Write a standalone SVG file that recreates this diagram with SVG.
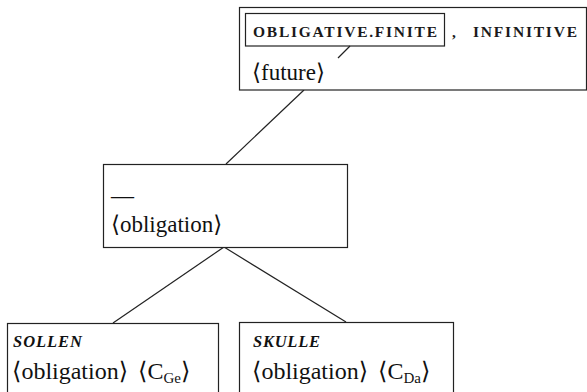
<svg xmlns="http://www.w3.org/2000/svg" width="587" height="392" viewBox="0 0 587 392">
  <style>
    .box { fill: #ffffff; stroke: #222222; stroke-width: 1.2; }
    .inner { fill: none; stroke: #222222; stroke-width: 1.2; }
    .edge { stroke: #222222; stroke-width: 1.2; fill: none; }
    .t { font-family: "Liberation Serif", "DejaVu Serif", serif; font-size: 23px; fill: #111111; }
    .t24 { font-size: 24px; }
    .br { font-family: "DejaVu Sans", "Liberation Serif", serif; }
    .sc { font-family: "Liberation Serif", "DejaVu Serif", serif; font-size: 15.5px; font-weight: bold; fill: #1a1a1a; }
    .lex { font-family: "Liberation Serif", "DejaVu Serif", serif; font-size: 16.5px; font-weight: bold; font-style: italic; fill: #111111; }
    .sub { font-size: 15px; }
  </style>

  <!-- connectors -->
  <g id="connectors">
    <line class="edge" x1="226" y1="164" x2="304" y2="90"/>
    <line class="edge" x1="224" y1="247" x2="113" y2="323"/>
    <line class="edge" x1="224" y1="247" x2="346" y2="322"/>
  </g>

  <!-- root construction -->
  <g id="node-future">
    <rect class="box" x="239.5" y="7.5" width="347" height="82.5"/>
    <rect class="inner" x="245.5" y="13.5" width="199" height="32.5"/>
    <line class="edge" x1="338" y1="58" x2="350" y2="46"/>
    <text class="sc" x="253" y="37" textLength="184" lengthAdjust="spacing">OBLIGATIVE.FINITE</text>
    <text class="sc" x="452" y="37">,</text>
    <text class="sc" x="473" y="37" textLength="104" lengthAdjust="spacing">INFINITIVE</text>
    <text class="t" x="252" y="80"><tspan class="br">⟨</tspan>future<tspan class="br">⟩</tspan></text>
  </g>

  <!-- intermediate construction -->
  <g id="node-obligation">
    <rect class="box" x="103.5" y="164.5" width="244" height="83"/>
    <text class="t" x="111" y="203">—</text>
    <text class="t" x="111" y="232"><tspan class="br">⟨</tspan>obligation<tspan class="br">⟩</tspan></text>
  </g>

  <!-- German verb -->
  <g id="node-sollen">
    <rect class="box" x="7.5" y="323.5" width="211" height="80"/>
    <text class="lex" x="13" y="347" textLength="69" lengthAdjust="spacing">SOLLEN</text>
    <text class="t t24" x="12" y="379"><tspan class="br">⟨</tspan>obligation<tspan class="br">⟩</tspan><tspan class="br" x="138">⟨</tspan>C<tspan class="sub" dy="4">Ge</tspan><tspan class="br" dy="-4">⟩</tspan></text>
  </g>

  <!-- Danish verb -->
  <g id="node-skulle">
    <rect class="box" x="239.5" y="322.5" width="214" height="80"/>
    <text class="lex" x="253" y="347" textLength="67" lengthAdjust="spacing">SKULLE</text>
    <text class="t t24" x="252" y="379"><tspan class="br">⟨</tspan>obligation<tspan class="br">⟩</tspan><tspan class="br" x="378">⟨</tspan>C<tspan class="sub" dy="4">Da</tspan><tspan class="br" dy="-4">⟩</tspan></text>
  </g>
</svg>
